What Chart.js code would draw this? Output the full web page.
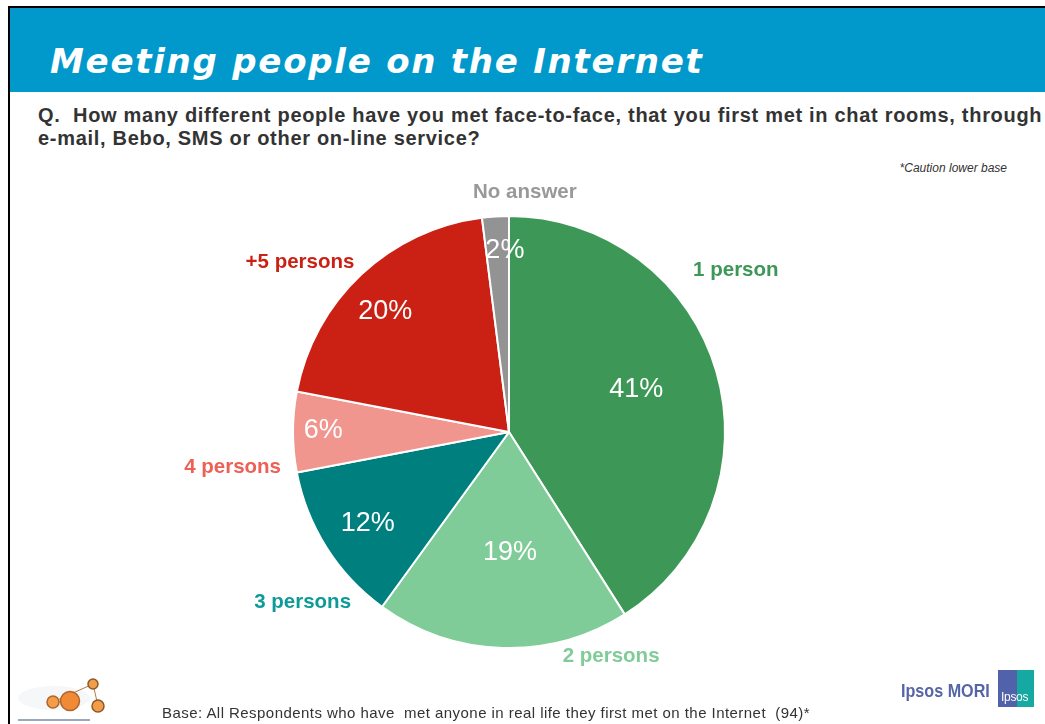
<!DOCTYPE html>
<html>
<head>
<meta charset="utf-8">
<script src="https://cdn.jsdelivr.net/npm/chart.js@4.4.1/dist/chart.umd.min.js"></script>
<style>
  html, body { margin: 0; padding: 0; background: #fff; }
  body { width: 1045px; height: 724px; position: relative; overflow: hidden; font-family: "Liberation Sans", Arial, sans-serif; }
  .frame-top { position: absolute; left: 8px; top: 6px; width: 1037px; height: 2px; background: #000; }
  .frame-left { position: absolute; left: 8px; top: 6px; width: 2px; height: 718px; background: #000; }
  .header { position: absolute; left: 10px; top: 8px; width: 1035px; height: 84px; background: #0199cb; }
  .title { position: absolute; left: 50px; top: 41px; color: #fff; font: oblique bold 34px "DejaVu Sans", sans-serif; letter-spacing: 1.75px; white-space: nowrap; }
  .question { position: absolute; left: 38px; top: 104px; width: 1015px; color: #333; font: bold 20px/22.5px "Liberation Sans", Arial, sans-serif; letter-spacing: 0.7px; }
  .caution { position: absolute; right: 38px; top: 161px; color: #333; font: italic 12px "Liberation Sans", Arial, sans-serif; }
  .base { position: absolute; left: 162px; top: 704px; color: #333; font: 15px "Liberation Sans", Arial, sans-serif; letter-spacing: 0.45px; white-space: nowrap; }
  #wrap { position: absolute; left: 0; top: 0; width: 1045px; height: 724px; }
  .mori { position: absolute; left: 901px; top: 680px; color: #5565a8; font: bold 19px "Liberation Sans", Arial, sans-serif; transform: scaleX(0.85); transform-origin: 0 0; white-space: nowrap; }
  .ipsos-box { position: absolute; left: 998px; top: 670px; width: 36px; height: 37px; background: linear-gradient(90deg, #5161aa 0 52%, #16a9a2 52% 100%); }
  .ipsos-box span { position: absolute; left: 3px; bottom: 3px; color: #fff; font: 12px "Liberation Sans", Arial, sans-serif; letter-spacing: -0.3px; }
  .logo-left { position: absolute; left: 14px; top: 672px; }
</style>
</head>
<body>
<div class="frame-top"></div>
<div class="frame-left"></div>
<div class="header"></div>
<div class="title">Meeting people on the Internet</div>
<div class="question">Q.&nbsp; How many different people have you met face-to-face, that you first met in chat rooms, through e-mail, Bebo, SMS or other on-line service?</div>
<div class="caution">*Caution lower base</div>
<div id="wrap"><canvas id="chart"></canvas></div>
<div class="base">Base: All Respondents who have&nbsp; met anyone in real life they first met on the Internet&nbsp; (94)*</div>
<div class="mori">Ipsos MORI</div>
<div class="ipsos-box"><span>Ipsos</span></div>
<svg class="logo-left" width="100" height="52" viewBox="0 0 100 52">
  <ellipse cx="40" cy="26" rx="36" ry="12" fill="#f6f7f9"/>
  <line x1="39" y1="30" x2="79" y2="12" stroke="#b07a40" stroke-width="1"/>
  <line x1="79" y1="12" x2="84" y2="34" stroke="#b07a40" stroke-width="1"/>
  <line x1="33" y1="30" x2="56" y2="30" stroke="#b07a40" stroke-width="1"/>
  <circle cx="39" cy="30" r="6" fill="#f39c4a" stroke="#b0652a" stroke-width="1.5"/>
  <circle cx="56" cy="29" r="9.5" fill="#f08a36" stroke="#b0652a" stroke-width="1.5"/>
  <circle cx="79" cy="12" r="5" fill="#f39c4a" stroke="#8a5a2a" stroke-width="1.5"/>
  <circle cx="84" cy="34" r="6" fill="#f39c4a" stroke="#8a5a2a" stroke-width="1.5"/>
  <rect x="4" y="47" width="72" height="2" fill="#9aa8c0"/>
</svg>
<script>
// Answers to "How many different people have you met face-to-face ..."
const categories = ['1 person', '2 persons', '3 persons', '4 persons', '+5 persons', 'No answer'];
const shares = [41, 19, 12, 6, 20, 2];
const sliceColors = ['#3d9857', '#80cc98', '#007f7f', '#f1968e', '#cb2115', '#939393'];
const labelColors = ['#3d9857', '#80cc98', '#0f9a9a', '#ee5f55', '#cb2115', '#999999'];

// Label placement around each slice: angle shift (deg) from the slice middle,
// and distance as a fraction of the pie radius.
const outerShift = [-19.3, -26.3, -7.2, -7.2, -7.8, 7.4];
const outerDist = [1.29, 1.14, 1.24, 1.29, 1.245, 1.11];
const innerShift = [-2.1, -2.3, -0.6, 0.6, -2.5, 2.3];
const innerDist = [0.62, 0.56, 0.78, 0.86, 0.80, 0.84];

const sliceLabels = {
  id: 'sliceLabels',
  afterDatasetsDraw(chart) {
    const ctx = chart.ctx;
    const meta = chart.getDatasetMeta(0);
    ctx.save();
    ctx.textAlign = 'center';
    ctx.textBaseline = 'middle';
    meta.data.forEach((arc, i) => {
      const p = arc.getProps(['x', 'y', 'startAngle', 'endAngle', 'outerRadius'], true);
      const mid = (p.startAngle + p.endAngle) / 2;
      const place = (shiftDeg, dist) => {
        const a = mid + shiftDeg * Math.PI / 180;
        return [p.x + Math.cos(a) * p.outerRadius * dist, p.y + Math.sin(a) * p.outerRadius * dist];
      };
      const [ix, iy] = place(innerShift[i], innerDist[i]);
      ctx.fillStyle = '#ffffff';
      ctx.font = '27px "Liberation Sans", Arial, sans-serif';
      ctx.fillText(shares[i] + '%', ix, iy);
      const [ox, oy] = place(outerShift[i], outerDist[i]);
      ctx.fillStyle = labelColors[i];
      ctx.font = 'bold 20.5px "Liberation Sans", Arial, sans-serif';
      ctx.fillText(categories[i], ox, oy);
    });
    ctx.restore();
  }
};

new Chart(document.getElementById('chart'), {
  type: 'pie',
  data: {
    labels: categories,
    datasets: [{
      data: shares,
      backgroundColor: sliceColors,
      borderColor: '#ffffff',
      borderWidth: 2
    }]
  },
  options: {
    responsive: true,
    maintainAspectRatio: false,
    animation: false,
    layout: { padding: { left: 292, top: 215, right: 319, bottom: 75 } },
    plugins: {
      legend: { display: false },
      tooltip: { enabled: false },
      title: { display: false }
    }
  },
  plugins: [sliceLabels]
});
</script>
</body>
</html>
